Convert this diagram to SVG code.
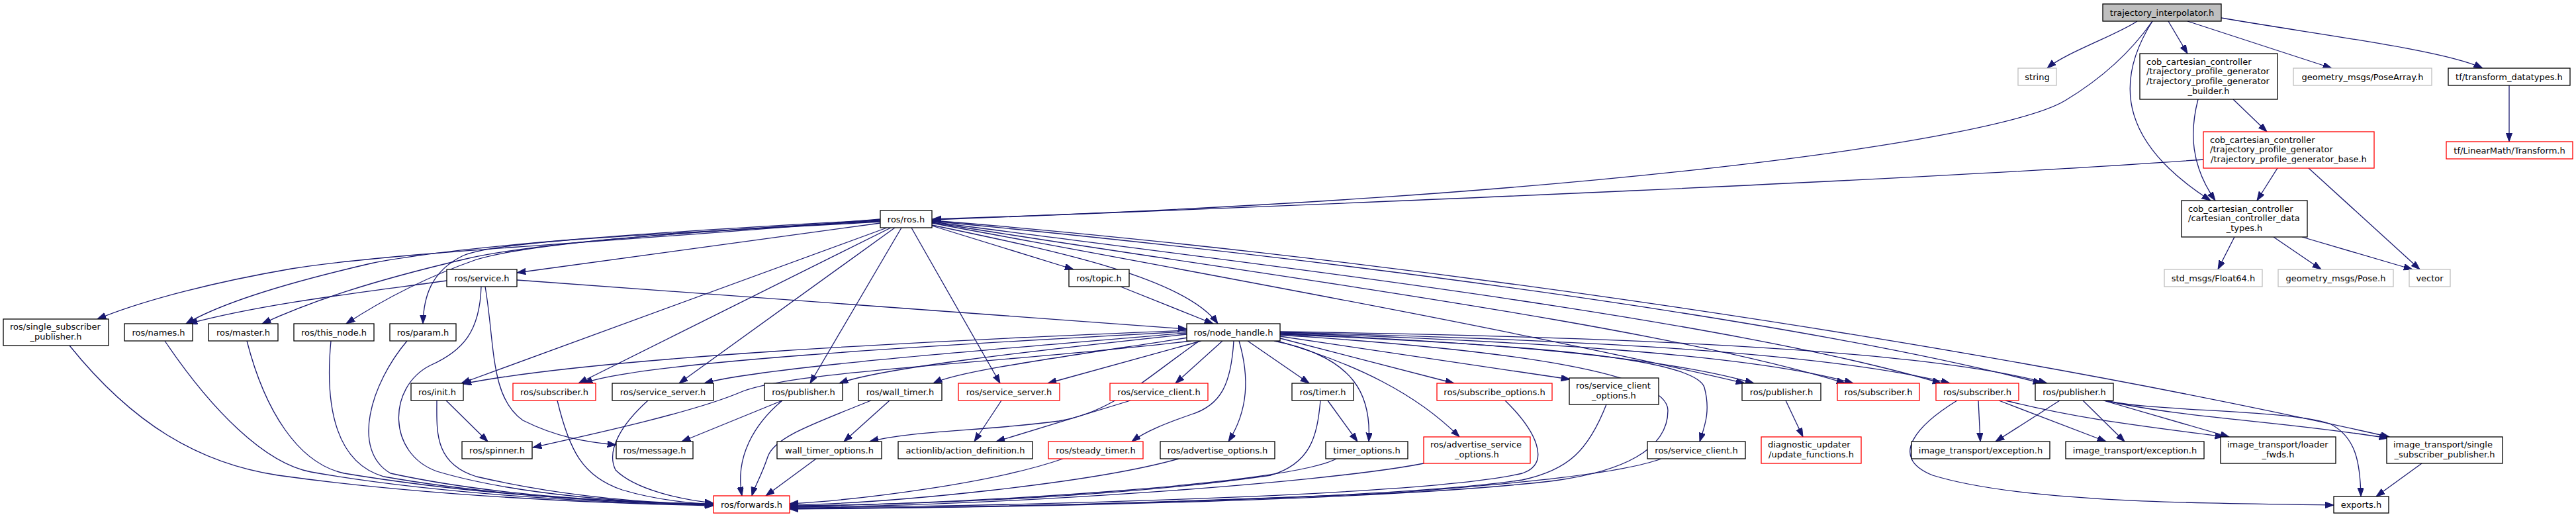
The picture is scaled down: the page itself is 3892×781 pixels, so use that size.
<svg xmlns="http://www.w3.org/2000/svg" width="3892" height="781" viewBox="0 0 3892 781">
<defs>
<marker id="ah" markerWidth="15" markerHeight="11" refX="13.3" refY="4.7" orient="auto" markerUnits="userSpaceOnUse"><path d="M0,0 L13.3,4.7 L0,9.4 z" fill="#191970" stroke="#191970" stroke-width="1"/></marker>
</defs>
<style>
.e{fill:none;stroke:#191970;stroke-width:1.3;marker-end:url(#ah)}
.b{fill:#fff;stroke:#000;stroke-width:1.3}
.r{fill:#fff;stroke:#ff0000;stroke-width:1.3}
.g{fill:#fff;stroke:#bfbfbf;stroke-width:1.3}
.f{fill:#bfbfbf;stroke:#000;stroke-width:1.3}
text{font-family:"DejaVu Sans","Liberation Sans",sans-serif;font-size:13px;fill:#000}
.c{text-anchor:middle}
</style>
<rect x="0" y="0" width="3892" height="781" fill="#fff"/>
<g id="edges">
<path class="e" d="M3229,32 C3200,52 3120,80 3093,103"/>
<path class="e" d="M3252,32 C3215,85 3165,125 3120,152 C3020,212 2400,300 1409,331"/>
<path class="e" d="M3276,32 L3305,81"/>
<path class="e" d="M3305,32 L3523,103"/>
<path class="e" d="M3356,27 C3500,52 3690,75 3751,103"/>
<path class="e" d="M3252,32 C3190,130 3210,220 3340,303"/>
<path class="e" d="M3321,150 C3308,200 3310,250 3347,303"/>
<path class="e" d="M3374,150 L3425,199"/>
<path class="e" d="M3441,254 L3410,303"/>
<path class="e" d="M3488,254 L3656,407"/>
<path class="e" d="M3329,241 C2900,272 2100,305 1409,332"/>
<path class="e" d="M3791,129 L3791,214"/>
<path class="e" d="M3376,358 L3351,407"/>
<path class="e" d="M3435,358 L3507,407"/>
<path class="e" d="M3478,358 L3645,407"/>
<path class="e" d="M1330,331 C950,365 600,380 440,406 C330,425 220,452 147,482"/>
<path class="e" d="M1330,332 C1000,350 700,370 560,398 C430,428 330,460 281,489"/>
<path class="e" d="M1330,333 C1000,352 790,370 700,392 C560,425 470,455 396,489"/>
<path class="e" d="M1330,334 C1000,352 800,368 720,392 C640,420 575,455 523,489"/>
<path class="e" d="M1330,335 C1000,354 760,362 700,386 C650,410 640,450 639,489"/>
<path class="e" d="M1330,337 L781,412"/>
<path class="e" d="M1340,344 L697,579"/>
<path class="e" d="M1346,344 L874,579"/>
<path class="e" d="M1352,344 L1026,579"/>
<path class="e" d="M1362,344 L1224,579"/>
<path class="e" d="M1377,344 L1511,579"/>
<path class="e" d="M1408,341 L1622,407"/>
<path class="e" d="M1408,340 C1600,380 1790,420 1840,489"/>
<path class="e" d="M1408,337 C1800,410 2300,500 2636,579"/>
<path class="e" d="M1408,336 C1900,415 2500,490 2788,579"/>
<path class="e" d="M1408,335 C1900,400 2600,480 2933,579"/>
<path class="e" d="M1408,334 C2000,390 2700,480 3085,579"/>
<path class="e" d="M1408,333 C2000,380 2900,500 3610,660"/>
<path class="e" d="M1693,433 L1833,489"/>
<path class="e" d="M675,424 C560,440 400,458 285,489"/>
<path class="e" d="M781,423 L1793,497"/>
<path class="e" d="M727,433 C725,500 700,530 650,552 C585,585 585,685 660,712 C780,748 960,760 1078,762"/>
<path class="e" d="M733,433 C748,520 740,600 790,635 C840,660 885,668 931,672"/>
<path class="e" d="M1793,499 C1400,515 900,540 699,580"/>
<path class="e" d="M1793,501 C1400,522 960,548 882,579"/>
<path class="e" d="M1793,503 C1500,528 1150,555 1064,579"/>
<path class="e" d="M1793,505 C1560,530 1330,556 1268,579"/>
<path class="e" d="M1795,510 C1600,540 1450,560 1410,579"/>
<path class="e" d="M1800,515 C1500,550 1200,560 1120,592 C1050,622 900,655 805,676"/>
<path class="e" d="M1812,515 C1720,580 1680,622 1600,636 C1480,652 1380,650 1314,667"/>
<path class="e" d="M1815,515 L1583,579"/>
<path class="e" d="M1847,515 L1776,579"/>
<path class="e" d="M1864,515 C1860,580 1845,612 1800,626 C1760,640 1730,652 1710,667"/>
<path class="e" d="M1872,515 C1888,570 1886,620 1856,667"/>
<path class="e" d="M1885,515 L1978,579"/>
<path class="e" d="M1925,515 C2050,540 2072,600 2068,667"/>
<path class="e" d="M1930,515 C2050,550 2140,595 2205,660"/>
<path class="e" d="M1934,511 L2197,579"/>
<path class="e" d="M1934,508 L2372,573"/>
<path class="e" d="M1934,506 C2300,530 2520,565 2520,620 C2520,680 2450,712 2350,726 C2100,756 1500,768 1193,768"/>
<path class="e" d="M1934,505 C2300,520 2560,540 2575,585 C2585,622 2575,645 2568,667"/>
<path class="e" d="M1934,504 C2200,515 2500,535 2650,579"/>
<path class="e" d="M1934,503 C2300,515 2650,535 2800,579"/>
<path class="e" d="M1934,502 C2350,512 2750,530 2946,579"/>
<path class="e" d="M1934,501 C2400,508 2900,525 3093,579"/>
<path class="e" d="M105,522 C200,640 300,700 420,718 C650,750 900,760 1078,764"/>
<path class="e" d="M249,515 C320,620 400,700 470,713 C650,745 900,760 1078,763"/>
<path class="e" d="M373,515 C400,620 450,700 520,715 C700,745 900,758 1078,762"/>
<path class="e" d="M500,515 C490,620 510,700 580,720 C750,750 950,760 1078,762"/>
<path class="e" d="M615,515 C560,580 530,680 590,715 C750,750 950,760 1078,761"/>
<path class="e" d="M674,605 L737,667"/>
<path class="e" d="M660,605 C660,650 655,700 720,720 C850,750 980,760 1078,762"/>
<path class="e" d="M842,605 C860,680 880,720 940,740 C990,755 1040,760 1078,762"/>
<path class="e" d="M979,605 C940,640 915,680 930,710 C960,740 1030,755 1078,760"/>
<path class="e" d="M1182,605 L1030,667"/>
<path class="e" d="M1182,605 C1140,640 1110,690 1121,749"/>
<path class="e" d="M1344,605 L1275,667"/>
<path class="e" d="M1316,605 C1230,640 1170,660 1160,690 C1150,720 1140,735 1136,749"/>
<path class="e" d="M1233,693 L1157,749"/>
<path class="e" d="M1513,605 L1472,667"/>
<path class="e" d="M1708,605 L1505,667"/>
<path class="e" d="M1606,693 C1500,730 1300,755 1193,761"/>
<path class="e" d="M1781,693 C1650,730 1350,760 1193,763"/>
<path class="e" d="M2006,605 L2051,667"/>
<path class="e" d="M1995,605 C1990,660 1980,700 1920,718 C1700,750 1400,762 1193,764"/>
<path class="e" d="M2019,693 C1950,730 1500,760 1193,765"/>
<path class="e" d="M2151,700 C2000,730 1500,765 1193,766"/>
<path class="e" d="M2274,605 C2320,650 2345,700 2300,715 C2150,750 1500,765 1193,767"/>
<path class="e" d="M2427,611 C2400,680 2370,710 2300,725 C2100,755 1500,767 1193,768"/>
<path class="e" d="M2510,693 C2450,715 2300,730 2100,745 C1700,762 1400,768 1193,769"/>
<path class="e" d="M2698,605 L2724,660"/>
<path class="e" d="M2989,605 L2992,667"/>
<path class="e" d="M3020,605 L3182,667"/>
<path class="e" d="M3030,605 C3150,635 3250,645 3360,660"/>
<path class="e" d="M2957,605 C2900,640 2850,690 2920,718 C3050,758 3300,760 3526,763"/>
<path class="e" d="M3112,605 L3015,667"/>
<path class="e" d="M3147,605 L3210,667"/>
<path class="e" d="M3178,605 L3368,660"/>
<path class="e" d="M3180,605 C3300,632 3450,636 3608,662"/>
<path class="e" d="M3182,605 C3250,622 3450,618 3520,640 C3560,660 3566,700 3567,750"/>
<path class="e" d="M3659,700 L3590,750"/>
</g>
<g id="n0"><rect class="f" x="3177" y="6" width="179" height="26"/><text class="c" x="3266.5" y="23.5">trajectory_interpolator.h</text></g>
<g id="n1"><rect class="g" x="3049" y="103" width="58" height="26"/><text class="c" x="3078" y="120.5">string</text></g>
<g id="n2"><rect class="b" x="3233" y="81" width="208" height="69"/><text x="3243" y="97.5">cob_cartesian_controller</text><text x="3243" y="112.3">/trajectory_profile_generator</text><text x="3243" y="127.1">/trajectory_profile_generator</text><text class="c" x="3337" y="141.9">_builder.h</text></g>
<g id="n3"><rect class="g" x="3465" y="103" width="209" height="26"/><text class="c" x="3569.5" y="120.5">geometry_msgs/PoseArray.h</text></g>
<g id="n4"><rect class="b" x="3699" y="103" width="184" height="26"/><text class="c" x="3791" y="120.5">tf/transform_datatypes.h</text></g>
<g id="n5"><rect class="r" x="3696" y="214" width="191" height="26"/><text class="c" x="3791.5" y="231.5">tf/LinearMath/Transform.h</text></g>
<g id="n6"><rect class="r" x="3329" y="199" width="258" height="55"/><text x="3339" y="215.5">cob_cartesian_controller</text><text x="3339" y="230.3">/trajectory_profile_generator</text><text class="c" x="3458" y="245.1">/trajectory_profile_generator_base.h</text></g>
<g id="n7"><rect class="b" x="3296" y="303" width="190" height="55"/><text x="3306" y="319.5">cob_cartesian_controller</text><text x="3306" y="334.3">/cartesian_controller_data</text><text class="c" x="3391" y="349.1">_types.h</text></g>
<g id="n8"><rect class="g" x="3270" y="407" width="148" height="26"/><text class="c" x="3344" y="424.5">std_msgs/Float64.h</text></g>
<g id="n9"><rect class="g" x="3442" y="407" width="174" height="26"/><text class="c" x="3529" y="424.5">geometry_msgs/Pose.h</text></g>
<g id="n10"><rect class="g" x="3640" y="407" width="62" height="26"/><text class="c" x="3671" y="424.5">vector</text></g>
<g id="n11"><rect class="b" x="1330" y="318" width="78" height="26"/><text class="c" x="1369" y="335.5">ros/ros.h</text></g>
<g id="n12"><rect class="b" x="5" y="482" width="159" height="40"/><text x="15" y="498">ros/single_subscriber</text><text class="c" x="84.5" y="513">_publisher.h</text></g>
<g id="n13"><rect class="b" x="188" y="489" width="103" height="26"/><text class="c" x="239.5" y="506.5">ros/names.h</text></g>
<g id="n14"><rect class="b" x="315" y="489" width="105" height="26"/><text class="c" x="367.5" y="506.5">ros/master.h</text></g>
<g id="n15"><rect class="b" x="444" y="489" width="121" height="26"/><text class="c" x="504.5" y="506.5">ros/this_node.h</text></g>
<g id="n16"><rect class="b" x="589" y="489" width="100" height="26"/><text class="c" x="639" y="506.5">ros/param.h</text></g>
<g id="n17"><rect class="b" x="675" y="407" width="106" height="26"/><text class="c" x="728" y="424.5">ros/service.h</text></g>
<g id="n18"><rect class="b" x="1615" y="407" width="91" height="26"/><text class="c" x="1660.5" y="424.5">ros/topic.h</text></g>
<g id="n19"><rect class="b" x="1793" y="489" width="141" height="26"/><text class="c" x="1863.5" y="506.5">ros/node_handle.h</text></g>
<g id="n20"><rect class="b" x="621" y="579" width="79" height="26"/><text class="c" x="660.5" y="596.5">ros/init.h</text></g>
<g id="n21"><rect class="r" x="775" y="579" width="125" height="26"/><text class="c" x="837.5" y="596.5">ros/subscriber.h</text></g>
<g id="n22"><rect class="b" x="925" y="579" width="153" height="26"/><text class="c" x="1001.5" y="596.5">ros/service_server.h</text></g>
<g id="n23"><rect class="b" x="1155" y="579" width="118" height="26"/><text class="c" x="1214" y="596.5">ros/publisher.h</text></g>
<g id="n24"><rect class="b" x="1297" y="579" width="126" height="26"/><text class="c" x="1360" y="596.5">ros/wall_timer.h</text></g>
<g id="n25"><rect class="r" x="1448" y="579" width="153" height="26"/><text class="c" x="1524.5" y="596.5">ros/service_server.h</text></g>
<g id="n26"><rect class="r" x="1677" y="579" width="148" height="26"/><text class="c" x="1751" y="596.5">ros/service_client.h</text></g>
<g id="n27"><rect class="b" x="1952" y="579" width="93" height="26"/><text class="c" x="1998.5" y="596.5">ros/timer.h</text></g>
<g id="n28"><rect class="r" x="2171" y="579" width="174" height="26"/><text class="c" x="2258" y="596.5">ros/subscribe_options.h</text></g>
<g id="n29"><rect class="b" x="2371" y="571" width="135" height="40"/><text x="2381" y="587">ros/service_client</text><text class="c" x="2438.5" y="602">_options.h</text></g>
<g id="n30"><rect class="b" x="2632" y="579" width="119" height="26"/><text class="c" x="2691.5" y="596.5">ros/publisher.h</text></g>
<g id="n31"><rect class="r" x="2776" y="579" width="124" height="26"/><text class="c" x="2838" y="596.5">ros/subscriber.h</text></g>
<g id="n32"><rect class="r" x="2925" y="579" width="125" height="26"/><text class="c" x="2987.5" y="596.5">ros/subscriber.h</text></g>
<g id="n33"><rect class="b" x="3075" y="579" width="118" height="26"/><text class="c" x="3134" y="596.5">ros/publisher.h</text></g>
<g id="n34"><rect class="b" x="698" y="667" width="106" height="26"/><text class="c" x="751" y="684.5">ros/spinner.h</text></g>
<g id="n35"><rect class="b" x="931" y="667" width="116" height="26"/><text class="c" x="989" y="684.5">ros/message.h</text></g>
<g id="n36"><rect class="b" x="1174" y="667" width="158" height="26"/><text class="c" x="1253" y="684.5">wall_timer_options.h</text></g>
<g id="n37"><rect class="b" x="1357" y="667" width="203" height="26"/><text class="c" x="1458.5" y="684.5">actionlib/action_definition.h</text></g>
<g id="n38"><rect class="r" x="1584" y="667" width="143" height="26"/><text class="c" x="1655.5" y="684.5">ros/steady_timer.h</text></g>
<g id="n39"><rect class="b" x="1753" y="667" width="173" height="26"/><text class="c" x="1839.5" y="684.5">ros/advertise_options.h</text></g>
<g id="n40"><rect class="b" x="2003" y="667" width="124" height="26"/><text class="c" x="2065" y="684.5">timer_options.h</text></g>
<g id="n41"><rect class="r" x="2151" y="660" width="161" height="40"/><text x="2161" y="676">ros/advertise_service</text><text class="c" x="2231.5" y="691">_options.h</text></g>
<g id="n42"><rect class="b" x="2489" y="667" width="148" height="26"/><text class="c" x="2563" y="684.5">ros/service_client.h</text></g>
<g id="n43"><rect class="r" x="2661" y="660" width="151" height="40"/><text x="2671" y="676">diagnostic_updater</text><text class="c" x="2736.5" y="691">/update_functions.h</text></g>
<g id="n44"><rect class="b" x="2888" y="667" width="209" height="26"/><text class="c" x="2992.5" y="684.5">image_transport/exception.h</text></g>
<g id="n45"><rect class="b" x="3121" y="667" width="209" height="26"/><text class="c" x="3225.5" y="684.5">image_transport/exception.h</text></g>
<g id="n46"><rect class="b" x="3355" y="660" width="174" height="40"/><text x="3365" y="676">image_transport/loader</text><text class="c" x="3442" y="691">_fwds.h</text></g>
<g id="n47"><rect class="b" x="3606" y="660" width="175" height="40"/><text x="3616" y="676">image_transport/single</text><text class="c" x="3693.5" y="691">_subscriber_publisher.h</text></g>
<g id="n48"><rect class="b" x="3526" y="750" width="83" height="25"/><text class="c" x="3567.5" y="767">exports.h</text></g>
<g id="n49"><rect class="r" x="1078" y="749" width="115" height="26"/><text class="c" x="1135.5" y="766.5">ros/forwards.h</text></g>
</svg>
